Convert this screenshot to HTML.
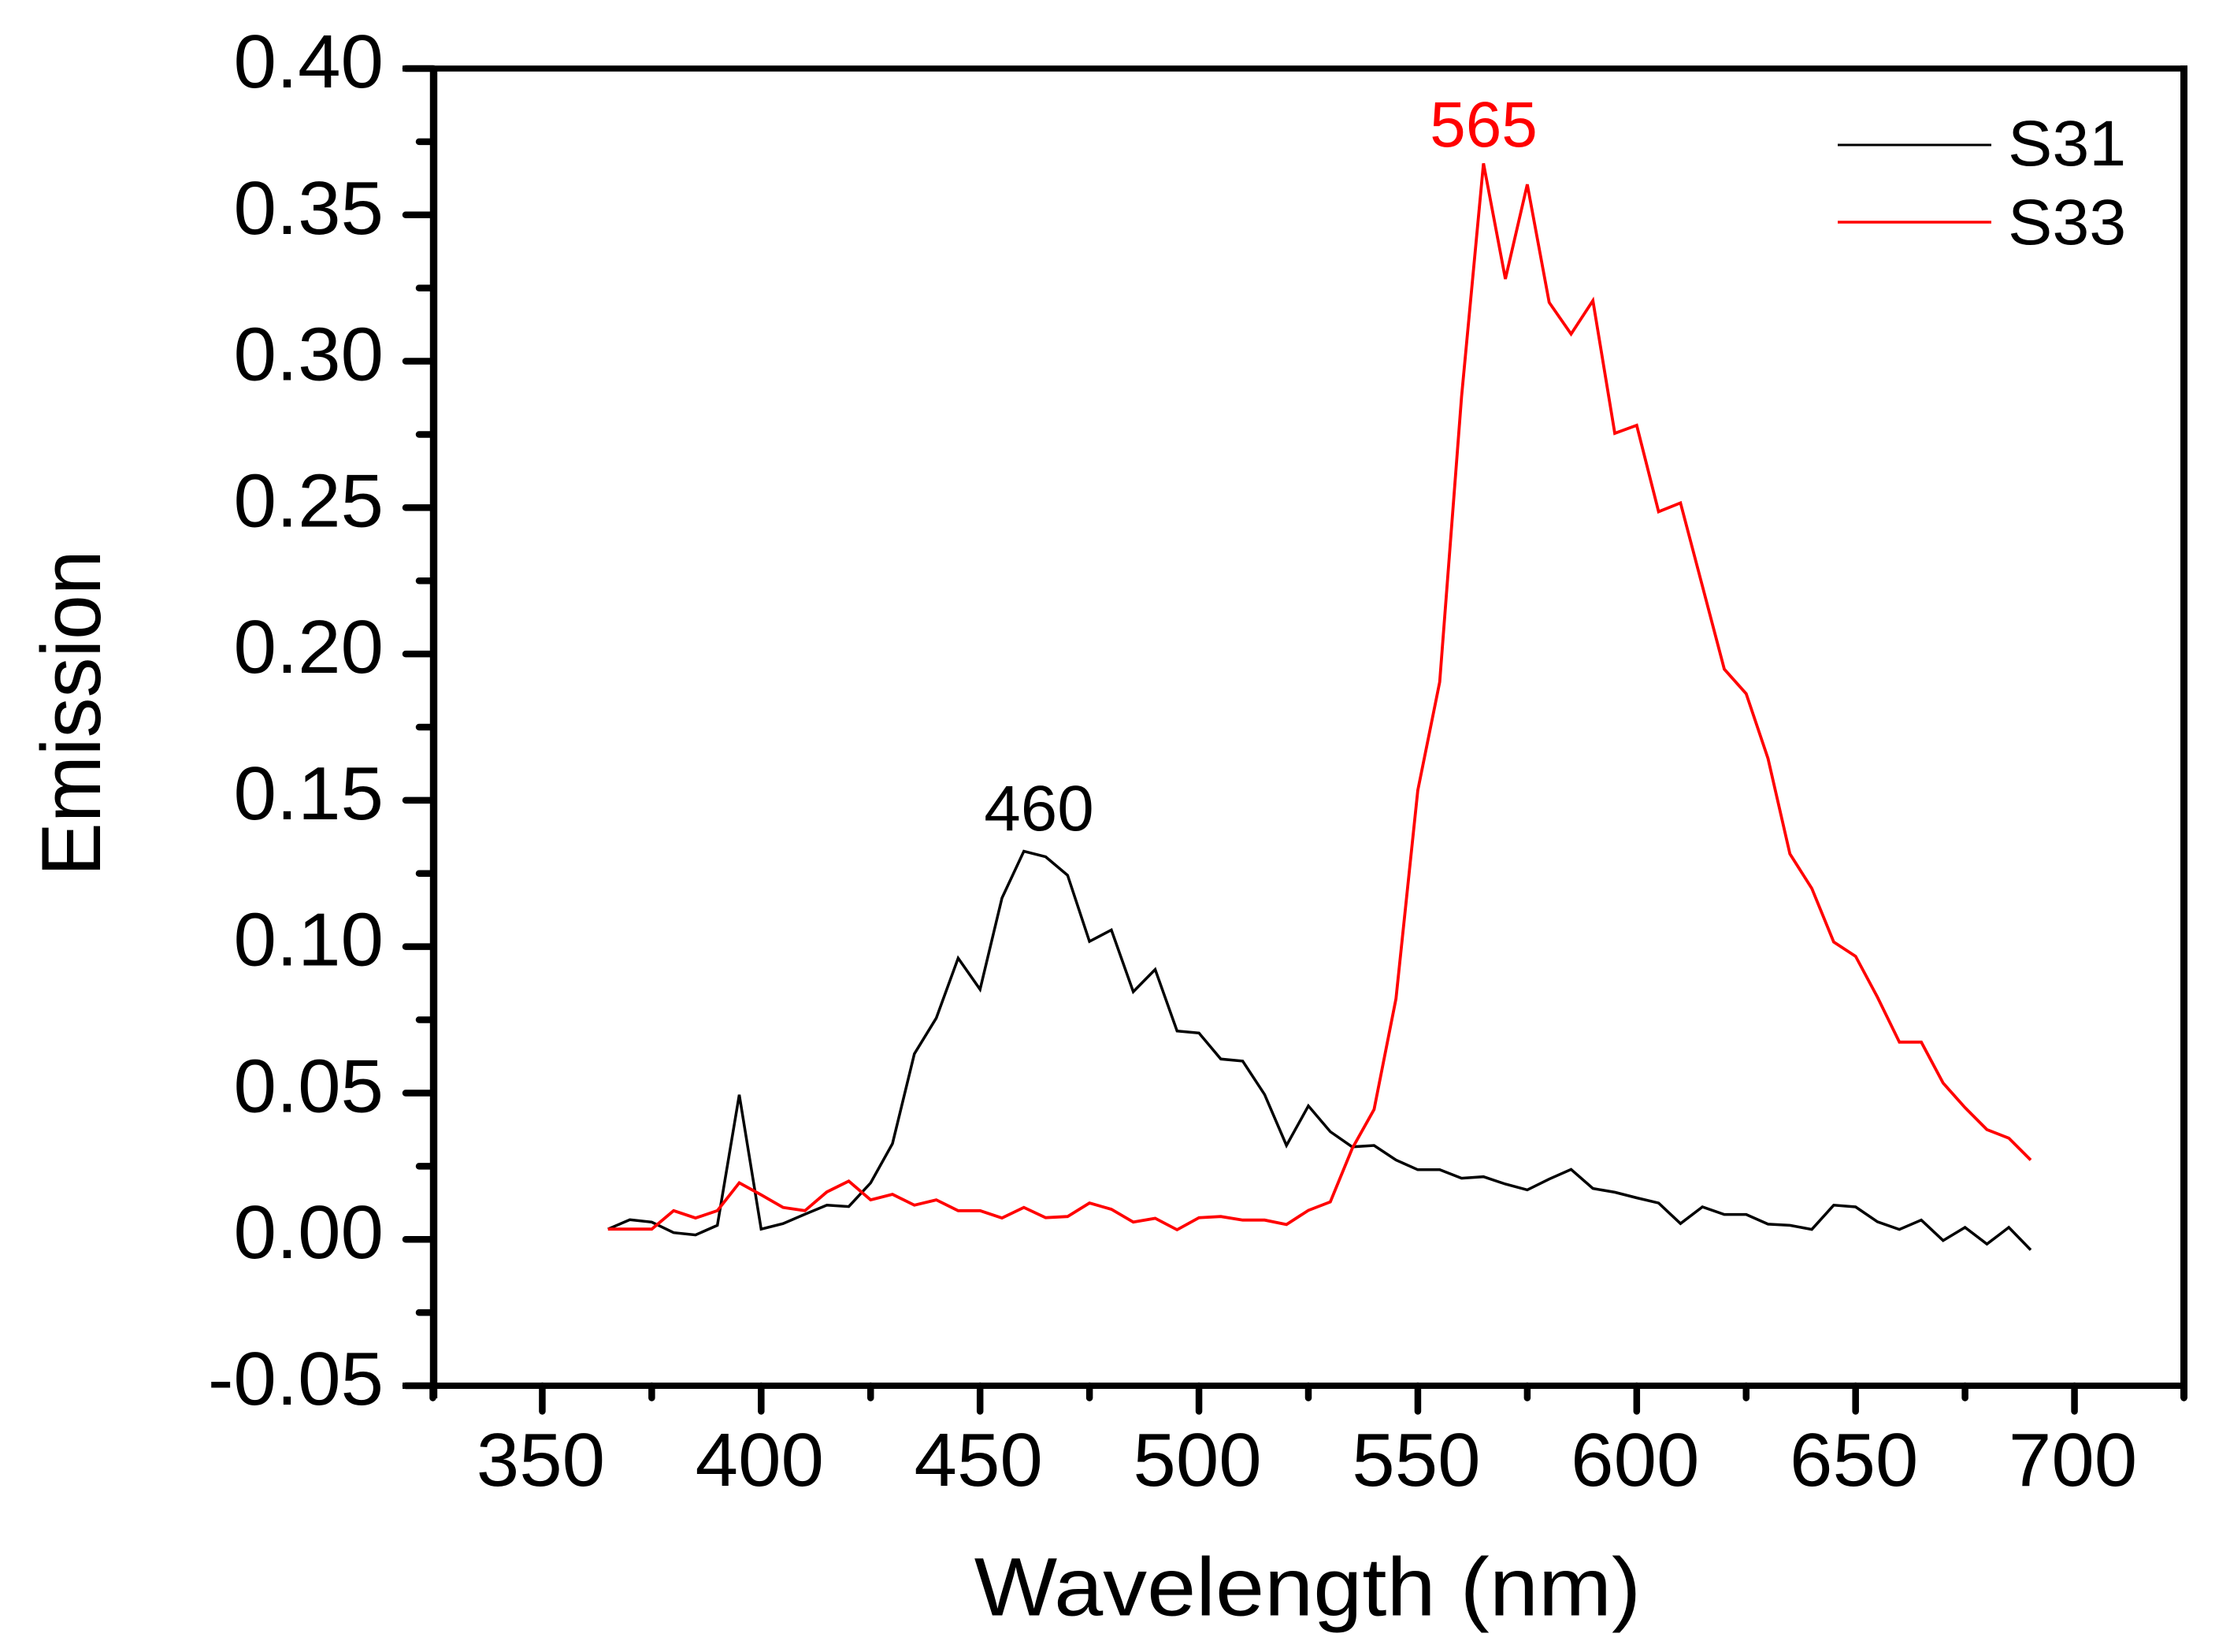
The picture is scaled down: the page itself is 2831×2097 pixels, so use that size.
<!DOCTYPE html>
<html lang="en">
<head>
<meta charset="utf-8">
<title>Emission spectra S31 and S33</title>
<style>
html,body{margin:0;padding:0;background:#fff;}
svg{display:block;}
text{font-family:"Liberation Sans",Arial,sans-serif;fill:#000;}
</style>
</head>
<body>
<svg id="chart" xmlns="http://www.w3.org/2000/svg" width="2831" height="2097" viewBox="0 0 2831 2097">
  <rect x="0" y="0" width="2831" height="2097" fill="#fff"/>
  <g id="ticks"></g>
  <g id="tick-labels"></g>
  <g id="series"></g>
  <g fill="#000">
    <rect x="511" y="83.2" width="2266" height="7.6"/>
    <rect x="511" y="1755" width="2266" height="8"/>
    <rect x="545.8" y="87" width="9.4" height="1688"/>
    <rect x="2768" y="83.2" width="9" height="1691.8"/>
  </g>
  <text text-anchor="middle" font-size="105" transform="translate(1660 2050.7) scale(1.064 1)">Wavelength (nm)</text>
  <text text-anchor="middle" font-size="102" transform="translate(127 905.3) scale(1.05 1) rotate(-90)">Emission</text>
  <text text-anchor="middle" font-size="82" transform="translate(1319 1054) scale(1.02 1)">460</text>
  <text text-anchor="middle" font-size="82" style="fill:#ff0000" transform="translate(1883.5 186) scale(1.0 1)">565</text>
  <g>
    <line x1="2333" y1="184" x2="2528" y2="184" stroke="#000" stroke-width="3"/>
    <text font-size="82" transform="translate(2549 210) scale(1.03 1)">S31</text>
    <line x1="2333" y1="282" x2="2528" y2="282" stroke="#ff0000" stroke-width="3.5"/>
    <text font-size="82" transform="translate(2549 310) scale(1.03 1)">S33</text>
  </g>
</svg>
<script>
const wavelengths = [365,370,375,380,385,390,395,400,405,410,415,420,425,430,435,440,445,450,455,460,465,470,475,480,485,490,495,500,505,510,515,520,525,530,535,540,545,550,555,560,565,570,575,580,585,590,595,600,605,610,615,620,625,630,635,640,645,650,655,660,665,670,675,680,685,690];
const s31Values = [0.0035,0.0067,0.0059,0.0023,0.0015,0.0048,0.0494,0.0035,0.0054,0.0086,0.0117,0.0112,0.0193,0.0327,0.0634,0.0756,0.0961,0.0854,0.1166,0.1326,0.1307,0.1244,0.1018,0.1057,0.0846,0.0922,0.0712,0.0705,0.0616,0.0609,0.0495,0.0321,0.0456,0.0368,0.0316,0.0321,0.0271,0.0238,0.0238,0.0209,0.0214,0.0189,0.0169,0.0206,0.0239,0.0174,0.0161,0.0142,0.0124,0.0054,0.0111,0.0085,0.0085,0.0052,0.0048,0.0034,0.0117,0.0111,0.0060,0.0034,0.0066,-0.0004,0.0041,-0.0016,0.0041,-0.0036];
const s33Values = [0.0035,0.0035,0.0035,0.0098,0.0073,0.0098,0.0193,0.0152,0.0109,0.0098,0.0162,0.0199,0.0135,0.0154,0.0117,0.0135,0.0098,0.0098,0.0073,0.0109,0.0074,0.0078,0.0124,0.0103,0.0059,0.0072,0.0033,0.0074,0.0078,0.0066,0.0066,0.0051,0.0099,0.0128,0.0310,0.0444,0.0822,0.1534,0.1904,0.2880,0.3676,0.3281,0.3604,0.3201,0.3093,0.3207,0.2754,0.2781,0.2486,0.2516,0.2232,0.1948,0.1864,0.1643,0.1317,0.1199,0.1016,0.0967,0.0827,0.0674,0.0674,0.0534,0.0450,0.0375,0.0346,0.0271];
const xMajorTicks = [350,400,450,500,550,600,650,700];
const xTickLabels = ["350","400","450","500","550","600","650","700"];
const xMinorTicks = [325,375,425,475,525,575,625,675,725];
const yMajorTicks = [-0.05,0,0.05,0.10,0.15,0.20,0.25,0.30,0.35,0.40];
const yTickLabels = ["-0.05","0.00","0.05","0.10","0.15","0.20","0.25","0.30","0.35","0.40"];
const yMinorTicks = [-0.025,0.025,0.075,0.125,0.175,0.225,0.275,0.325,0.375];

const NS = "http://www.w3.org/2000/svg";
function xScale(w){ return 549.5 + (w - 325) * (2772.5 - 549.5) / 400; }
function yScale(v){ return 1759 - (v + 0.05) * (1759 - 87) / 0.45; }

const tickLayer = document.getElementById("ticks");
const labelLayer = document.getElementById("tick-labels");
const seriesLayer = document.getElementById("series");

function makeTick(x1, y1, x2, y2, sw){
  const l = document.createElementNS(NS, "line");
  l.setAttribute("x1", x1);
  l.setAttribute("y1", y1);
  l.setAttribute("x2", x2);
  l.setAttribute("y2", y2);
  l.setAttribute("stroke", "#000");
  l.setAttribute("stroke-width", sw);
  l.setAttribute("stroke-linecap", "round");
  tickLayer.appendChild(l);
  return l;
}
function makeLabel(str, x, y, anchor){
  const t = document.createElementNS(NS, "text");
  t.textContent = str;
  t.setAttribute("font-size", "96");
  t.setAttribute("text-anchor", anchor);
  t.setAttribute("transform", "translate(" + x + " " + y + ") scale(1.02 1)");
  labelLayer.appendChild(t);
  return t;
}

xMajorTicks.forEach(function(w, i){
  const px = xScale(w);
  const tick = makeTick(px, 1759, px, 1791.5, 8.5);
  
  
  const label = makeLabel(xTickLabels[i], px - 2, 1886, "middle");
  
  
});
xMinorTicks.forEach(function(w){
  const px = xScale(w);
  const tick = makeTick(px, 1759, px, 1774.5, 8.5);
  
  
});
yMajorTicks.forEach(function(v, i){
  const py = yScale(v);
  const tick = makeTick(515, py, 550, py, 8.5);
  
  
  const label = makeLabel(yTickLabels[i], 487, py + 24, "end");
  
  
});
yMinorTicks.forEach(function(v){
  const py = yScale(v);
  const tick = makeTick(532, py, 550, py, 8.5);
  
  
});

function pathFor(values){
  return values.map(function(v, i){
    return xScale(wavelengths[i]).toFixed(1) + "," + yScale(v).toFixed(1);
  }).join(" ");
}
const s31Line = document.createElementNS(NS, "polyline");


s31Line.setAttribute("points", pathFor(s31Values));
s31Line.setAttribute("fill", "none");
s31Line.setAttribute("stroke", "#000");
s31Line.setAttribute("stroke-width", "3.5");
s31Line.setAttribute("stroke-linejoin", "miter");
seriesLayer.appendChild(s31Line);

const s33Line = document.createElementNS(NS, "polyline");


s33Line.setAttribute("points", pathFor(s33Values));
s33Line.setAttribute("fill", "none");
s33Line.setAttribute("stroke", "#ff0000");
s33Line.setAttribute("stroke-width", "3.8");
s33Line.setAttribute("stroke-linejoin", "miter");
seriesLayer.appendChild(s33Line);
</script>
</body>
</html>
